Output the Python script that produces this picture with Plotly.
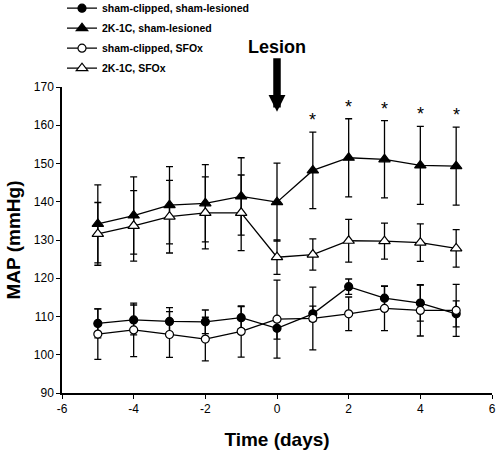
import plotly.graph_objects as go

days = [-5, -4, -3, -2, -1, 0, 1, 2, 3, 4, 5]

sham_sham = [108.2, 109.1, 108.7, 108.6, 109.7, 106.9, 110.7, 117.8, 114.8, 113.5, 110.7]
sham_sham_err = [3.8, 3.9, 3.6, 3.1, 2.9, 2.8, 2.0, 2.0, 3.2, 4.7, 3.4]

k2_sham = [134.2, 136.4, 139.1, 139.6, 141.4, 139.9, 148.2, 151.5, 151.1, 149.5, 149.3]
k2_sham_err = [10.2, 10.1, 10.1, 10.1, 10.1, 10.2, 10.0, 10.2, 10.1, 10.2, 10.2]

sham_sfox = [105.4, 106.5, 105.3, 104.1, 106.1, 109.3, 109.5, 110.7, 112.1, 111.6, 111.6]
sham_sfox_err = [6.6, 7.0, 6.0, 5.7, 6.7, 10.2, 8.2, 4.4, 5.8, 6.7, 6.8]

k2_sfox = [131.6, 133.7, 136.1, 137.1, 137.1, 125.5, 126.2, 129.8, 129.7, 129.3, 127.8]
k2_sfox_err = [8.2, 9.2, 9.5, 9.4, 9.9, 4.5, 4.1, 5.6, 4.7, 4.9, 4.9]

significant = [False, False, False, False, False, False, True, True, True, True, True]

x_ticks = [-6, -4, -2, 0, 2, 4, 6]
y_ticks = [90, 100, 110, 120, 130, 140, 150, 160, 170]

FONT = "Liberation Sans, Arial, sans-serif"

series = [
    ("sham-clipped, sham-lesioned", sham_sham, sham_sham_err, "circle", "black", 8),
    ("2K-1C, sham-lesioned", k2_sham, k2_sham_err, "triangle-up", "black", 10),
    ("sham-clipped, SFOx", sham_sfox, sham_sfox_err, "circle", "white", 8),
    ("2K-1C, SFOx", k2_sfox, k2_sfox_err, "triangle-up", "white", 10),
]

fig = go.Figure()
for i, (name, vals, errs, sym, fill, size) in enumerate(series):
    fig.add_trace(go.Scatter(
        x=days, y=vals, name=name, mode="lines+markers",
        legendgroup=f"g{i}",
        line=dict(color="black", width=1.3),
        marker=dict(symbol=sym, size=size, color=fill, line=dict(color="black", width=1.2)),
        error_y=dict(type="data", array=errs, visible=True, color="black", thickness=1.3, width=3.5),
        cliponaxis=False,
    ))

annotations = []
for d, v, e, s in zip(days, k2_sham, k2_sham_err, significant):
    if s:
        annotations.append(dict(x=d, y=v + e, xref="x", yref="y", text="*", showarrow=False,
                                yanchor="bottom", yshift=0,
                                font=dict(family=FONT, size=18, color="black")))

annotations.append(dict(x=0, y=163.5, xref="x", yref="y", text="<b>Lesion</b>",
                        showarrow=True, axref="x", ayref="y", ax=0, ay=180.5,
                        arrowhead=2, arrowsize=0.45, arrowwidth=7.5, arrowcolor="black",
                        font=dict(family=FONT, size=18, color="black")))

fig.update_layout(
    width=497, height=450,
    margin=dict(l=62, r=5, t=87, b=57, autoexpand=False),
    paper_bgcolor="white", plot_bgcolor="white",
    font=dict(family=FONT, color="black"),
    showlegend=True,
    legend=dict(x=0.0, y=1.305, xanchor="left", yanchor="top",
                font=dict(family=FONT, size=10.5, color="black", weight="bold"),
                bgcolor="rgba(0,0,0,0)", tracegroupgap=1, itemwidth=30),
    annotations=annotations,
    xaxis=dict(range=[-6, 6], tickvals=x_ticks, ticktext=[str(t) for t in x_ticks],
               showgrid=False, zeroline=False, showline=True, linecolor="black", linewidth=1.5,
               ticks="outside", ticklen=4, tickwidth=1.2, tickcolor="black",
               tickfont=dict(family=FONT, size=12, color="black"),
               title=dict(text="<b>Time (days)</b>", font=dict(family=FONT, size=19, color="black"), standoff=18)),
    yaxis=dict(range=[90, 170], tickvals=y_ticks, ticktext=[str(t) for t in y_ticks],
               showgrid=False, zeroline=False, showline=True, linecolor="black", linewidth=1.5,
               ticks="outside", ticklen=4, tickwidth=1.2, tickcolor="black",
               tickfont=dict(family=FONT, size=12, color="black"),
               title=dict(text="<b>MAP (mmHg)</b>", font=dict(family=FONT, size=19, color="black"), standoff=8)),
)

fig.write_html("out.html", config={"displayModeBar": False},
               post_script="document.body.style.margin='0px';document.body.style.padding='0px';document.body.style.overflow='hidden';")
